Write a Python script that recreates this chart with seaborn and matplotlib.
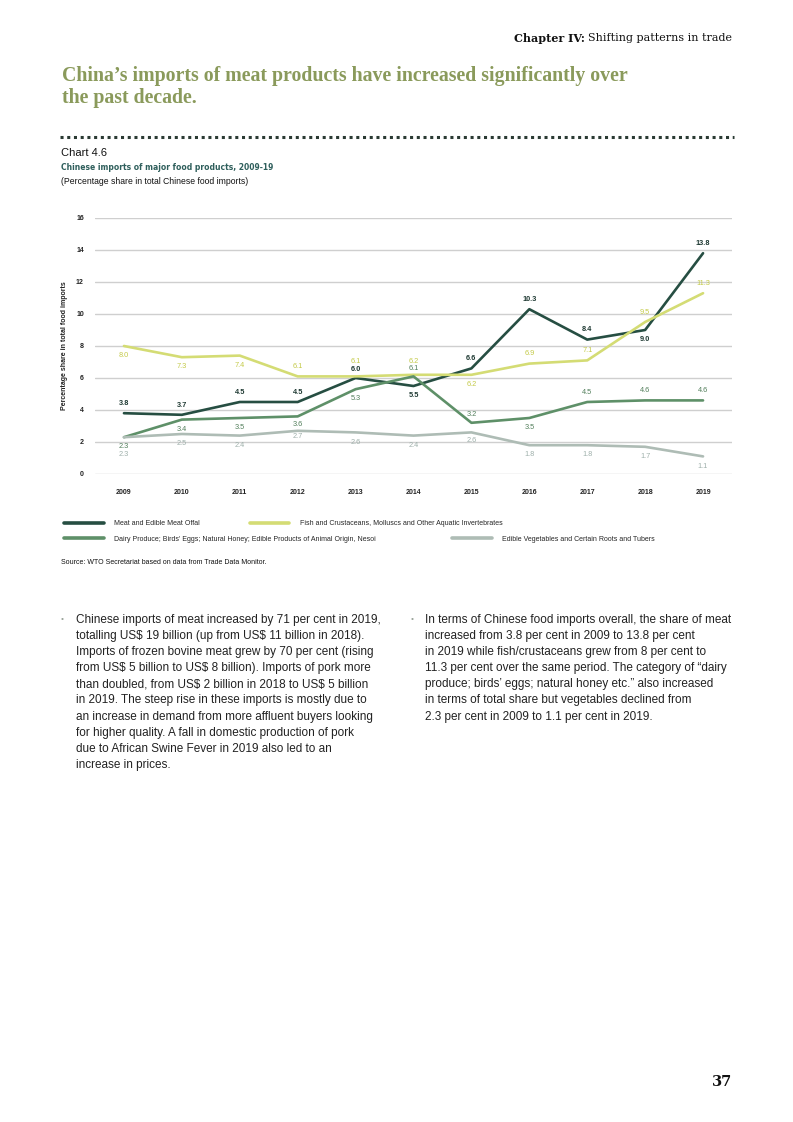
import matplotlib
matplotlib.use("Agg")
import matplotlib.pyplot as plt
from matplotlib.lines import Line2D
import seaborn as sns
import pandas as pd

years = [2009, 2010, 2011, 2012, 2013, 2014, 2015, 2016, 2017, 2018, 2019]
meat = [3.8, 3.7, 4.5, 4.5, 6.0, 5.5, 6.6, 10.3, 8.4, 9.0, 13.8]
fish = [8.0, 7.3, 7.4, 6.1, 6.1, 6.2, 6.2, 6.9, 7.1, 9.5, 11.3]
dairy = [2.3, 3.4, 3.5, 3.6, 5.3, 6.1, 3.2, 3.5, 4.5, 4.6, 4.6]
veg = [2.3, 2.5, 2.4, 2.7, 2.6, 2.4, 2.6, 1.8, 1.8, 1.7, 1.1]
series_names = [
    "Meat and Edible Meat Offal",
    "Fish and Crustaceans, Molluscs and Other Aquatic Invertebrates",
    "Dairy Produce; Birds' Eggs; Natural Honey; Edible Products of Animal Origin, Nesoi",
    "Edible Vegetables and Certain Roots and Tubers",
]
# label placement (multiples of the base offset): + above, - below
meat_pos = [1, 1, 1, 1, 0.85, -1, 1, 1, 1, -1, 1]
fish_pos = [-1, -1, -1, 1, 1.5, 1.4, -1, 1, 1, 1, 1]
dairy_pos = [-1, -1, -1, -0.8, -1, 0.8, 0.9, -1, 1, 1, 1]
veg_pos = [-1.75, -1, -1, -0.6, -1, -1, -0.8, -1, -1, -1, -1]
yticks = [0, 2, 4, 6, 8, 10, 12, 14, 16]

line_colors = ["#264e42", "#d4dc74", "#5e9068", "#aebcb5"]
label_colors = ["#1f3a33", "#c4ca48", "#527f5b", "#9fb0ab"]

sns.set_theme(style="white")
plt.rcParams["font.family"] = ["Liberation Sans", "DejaVu Sans"]

W, H = 793, 1122
fig = plt.figure(figsize=(W / 100, H / 100), dpi=100)


def fy(py):
    return 1 - py / H


df = pd.concat([
    pd.DataFrame({"year": years, "value": vals, "series": name})
    for name, vals in zip(series_names, [meat, fish, dairy, veg])
])

ax = fig.add_axes([95 / W, fy(474), (732 - 95) / W, (474 - 218) / H])
sns.lineplot(data=df, x="year", y="value", hue="series", palette=line_colors,
             hue_order=series_names, linewidth=1.9, ax=ax, legend=False)

for vals, pos, col in zip([meat, fish, dairy, veg], [meat_pos, fish_pos, dairy_pos, veg_pos], label_colors):
    for x, v, p in zip(years, vals, pos):
        ax.annotate(f"{v:.1f}", (x, v), xytext=(0, 7 * p), textcoords="offset points",
                    ha="center", va="center", fontsize=5.3, color=col,
                    fontweight="bold" if col == label_colors[0] else "normal")

ax.set_xlim(2008.5, 2019.5)
ax.set_ylim(0, 16)
ax.set_yticks(yticks)
ax.set_xticks(years)
ax.set_xticklabels([str(y) for y in years], fontsize=5, fontweight="bold", color="#222222")
ax.set_yticklabels([str(y) for y in yticks], fontsize=5, fontweight="bold", color="#222222")
ax.tick_params(axis="x", length=0, pad=11)
ax.tick_params(axis="y", length=0, pad=8)
ax.grid(axis="y", color="#cfcfcf", linewidth=1.0)
for s in ax.spines.values():
    s.set_visible(False)
ax.set_xlabel("")
ax.set_ylabel("Percentage share in total food imports", fontsize=5, color="#222222",
              labelpad=6, fontweight="bold")

# legends
lines = ax.get_lines()
leg1 = fig.legend([lines[0], lines[1]], series_names[:2], loc="center left",
                  bbox_to_anchor=(64 / W, fy(523.5)), ncol=2, frameon=False, fontsize=5,
                  handlelength=5.7, handletextpad=1.5, columnspacing=7.2, borderaxespad=0,
                  borderpad=0)
leg2 = fig.legend([lines[2], lines[3]], series_names[2:], loc="center left",
                  bbox_to_anchor=(64 / W, fy(539)), ncol=2, frameon=False, fontsize=5,
                  handlelength=5.7, handletextpad=1.5, columnspacing=11.0, borderaxespad=0,
                  borderpad=0)
for lg in (leg1, leg2):
    for h in lg.legend_handles:
        h.set_linewidth(2.6)

fig.text(61 / W, fy(563), "Source: WTO Secretariat based on data from Trade Data Monitor.",
         fontsize=5, color="#111111", va="center")

fig.canvas.draw()
renderer = fig.canvas.get_renderer()


def fit(txt, target_px):
    w = txt.get_window_extent(renderer).width
    txt.set_fontsize(txt.get_fontsize() * target_px / w)


# header
hdr1 = fig.text(732 / W, fy(38), "Shifting patterns in trade", fontsize=8,
                ha="right", va="center", color="#111111", family="DejaVu Serif")
bb = hdr1.get_window_extent(renderer)
fig.text(bb.x0 / W - 0.004, fy(38), "Chapter IV:", fontsize=8, fontweight="bold",
         ha="right", va="center", color="#111111", family="DejaVu Serif")

head_color = "#8a9a5b"
h1 = fig.text(62 / W, fy(76), "China\u2019s imports of meat products have increased significantly over",
              fontsize=12, fontweight="bold", color=head_color, family="Liberation Serif", va="center")
fit(h1, 564)
fig.text(62 / W, fy(98), "the past decade.", fontsize=h1.get_fontsize(), fontweight="bold",
         color=head_color, family="Liberation Serif", va="center")

fig.add_artist(Line2D([60 / W, 734 / W], [fy(137)] * 2, transform=fig.transFigure,
                      color="#2a3a33", linestyle=(0, (1, 1.2)), linewidth=2.2))

t1 = fig.text(61 / W, fy(153), "Chart 4.6", fontsize=6.5, color="#111111", va="center")
fit(t1, 46)
t2 = fig.text(61 / W, fy(168), "Chinese imports of major food products, 2009-19", fontsize=6.8,
              fontweight="bold", color="#2f5f5c", va="center", family="DejaVu Sans")
fit(t2, 212)
t3 = fig.text(61 / W, fy(182), "(Percentage share in total Chinese food imports)", fontsize=6.5,
              color="#111111", va="center")
fit(t3, 185)

left_lines = ["Chinese imports of meat increased by 71 per cent in 2019,",
              "totalling US\\$ 19 billion (up from US\\$ 11 billion in 2018).",
              "Imports of frozen bovine meat grew by 70 per cent (rising",
              "from US\\$ 5 billion to US\\$ 8 billion). Imports of pork more",
              "than doubled, from US\\$ 2 billion in 2018 to US\\$ 5 billion",
              "in 2019. The steep rise in these imports is mostly due to",
              "an increase in demand from more affluent buyers looking",
              "for higher quality. A fall in domestic production of pork",
              "due to African Swine Fever in 2019 also led to an",
              "increase in prices."]
right_lines = ["In terms of Chinese food imports overall, the share of meat",
               "increased from 3.8 per cent in 2009 to 13.8 per cent",
               "in 2019 while fish/crustaceans grew from 8 per cent to",
               "11.3 per cent over the same period. The category of \u201cdairy",
               "produce; birds\u2019 eggs; natural honey etc.\u201d also increased",
               "in terms of total share but vegetables declined from",
               "2.3 per cent in 2009 to 1.1 per cent in 2019."]

probe = fig.text(76 / W, fy(620), left_lines[0], fontsize=8, color="#222222", va="center")
fit(probe, 308)
body_fs = probe.get_fontsize()
probe.remove()

for i, ln in enumerate(left_lines):
    fig.text(76 / W, fy(620 + 16.1 * i), ln, fontsize=body_fs, color="#222222", va="center")
for i, ln in enumerate(right_lines):
    fig.text(425 / W, fy(620 + 16.1 * i), ln, fontsize=body_fs, color="#222222", va="center")
fig.text(61 / W, fy(620), "\u2022", fontsize=6, color="#9aa39a", va="center")
fig.text(411 / W, fy(620), "\u2022", fontsize=6, color="#9aa39a", va="center")

fig.text(732 / W, fy(1082), "37", fontsize=10.5, fontweight="bold", ha="right",
         va="center", color="#111111", family="DejaVu Serif")

fig.savefig("out.png", dpi=100)
